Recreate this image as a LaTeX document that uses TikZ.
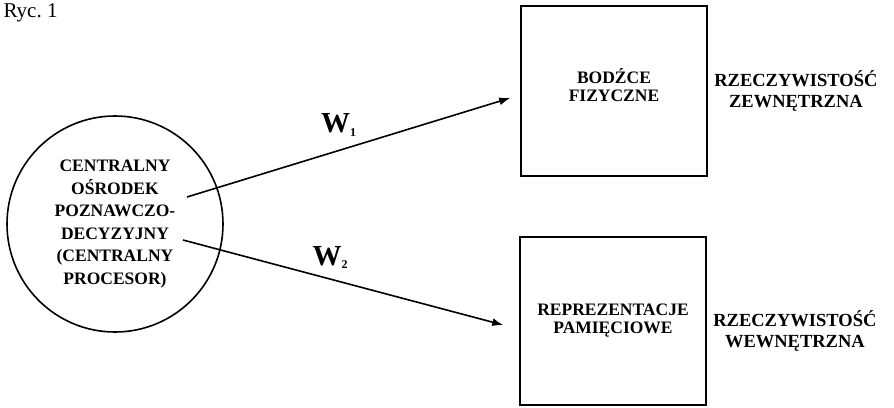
\documentclass[tikz,border=0pt]{standalone}
\usepackage{fontspec}
\setmainfont{Liberation Serif}
\usetikzlibrary{arrows.meta}
\usetikzlibrary{positioning}
\usetikzlibrary{calc}

\tikzset{
    blok/.style={draw,line width=1.6pt,minimum width=186pt,minimum height=170pt,
        align=center,font=\fontsize{17.5}{18}\selectfont\bfseries},
    opis/.style={align=center,font=\fontsize{18.5}{21}\selectfont\bfseries},
    strzalka/.style={line width=1.6pt,-{Latex[length=11pt,width=8pt]}},
    waga/.style={font=\fontsize{29}{30}\selectfont\bfseries}
}

\begin{document}
\begin{tikzpicture}[x=1pt,y=-1pt]
        \useasboundingbox (0,0) rectangle (894,407);
        \node[anchor=base west,font=\fontsize{21}{22}\selectfont] (ryc) at (0,17) {Ryc.\ 1};

        % centralny procesor
        \node[draw,circle,line width=1.6pt,minimum size=216pt,inner sep=0pt,
            align=center,font=\fontsize{17.5}{22.5}\selectfont\bfseries] (cpd) at (115,224)
            {CENTRALNY\\OŚRODEK\\POZNAWCZO-\\DECYZYJNY\\(CENTRALNY\\PROCESOR)};

        % rzeczywistosc
        \node[blok] (bodzce) at (614,91) {BODŹCE\\FIZYCZNE\\[-6pt]};
        \node[blok,minimum height=168pt] (pamiec) at (613,321) {REPREZENTACJE\\PAMIĘCIOWE};
        \node[opis,right=3pt of bodzce] (zewn) {RZECZYWISTOŚĆ\\ZEWNĘTRZNA};
        \node[opis,right=3pt of pamiec,yshift=-10pt] (wewn) {RZECZYWISTOŚĆ\\WEWNĘTRZNA};

        \coordinate (w1start) at ($(cpd.center)+(72,-27)$);
        \coordinate (w2start) at ($(cpd.center)+(68,16)$);

        \draw[strzalka] (w1start) -- ([shift={(-10,7)}]bodzce.west)
            node[waga,pos=0.47,above=10pt] (w1) {W\textsubscript{\fontsize{12}{12}\selectfont 1}};
        \draw[strzalka] (w2start) -- ([shift={(-16,4)}]pamiec.west)
            node[waga,pos=0.46,above=6pt] (w2) {W\textsubscript{\fontsize{12}{12}\selectfont 2}};
    \end{tikzpicture}
\end{document}
